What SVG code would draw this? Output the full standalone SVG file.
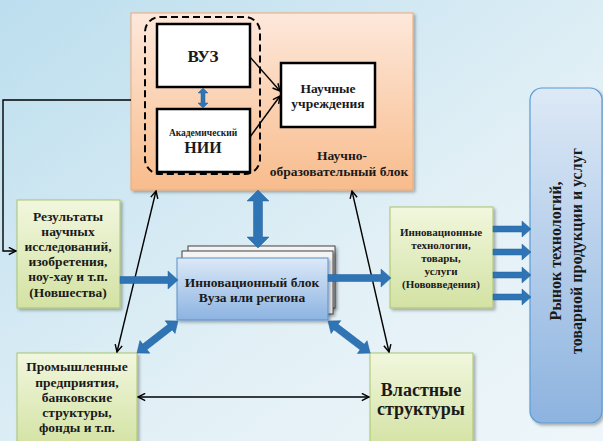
<svg xmlns="http://www.w3.org/2000/svg" width="603" height="441" viewBox="0 0 603 441" font-family="Liberation Serif, Times New Roman, DejaVu Serif, serif">
<defs>
<linearGradient id="bg" x1="0" y1="0" x2="1" y2="1">
<stop offset="0" stop-color="#bcdeee"/>
<stop offset="0.6" stop-color="#e2f0f6"/>
<stop offset="1" stop-color="#eef6fa"/>
</linearGradient>
<linearGradient id="orange" x1="0" y1="0" x2="0" y2="1">
<stop offset="0" stop-color="#fde8db"/>
<stop offset="1" stop-color="#f8bc8c"/>
</linearGradient>
<linearGradient id="green" x1="0" y1="0" x2="0" y2="1">
<stop offset="0" stop-color="#f1f7de"/>
<stop offset="1" stop-color="#d3e2a3"/>
</linearGradient>
<linearGradient id="blue" x1="0" y1="0" x2="0" y2="1">
<stop offset="0" stop-color="#dce9f7"/>
<stop offset="1" stop-color="#8cb3e1"/>
</linearGradient>
<linearGradient id="market" x1="0" y1="0" x2="0" y2="1">
<stop offset="0" stop-color="#dde9f6"/>
<stop offset="1" stop-color="#8db3df"/>
</linearGradient>
<filter id="sh" x="-10%" y="-10%" width="130%" height="130%">
<feDropShadow dx="2" dy="2" stdDeviation="1.5" flood-color="#000" flood-opacity="0.3"/>
</filter>
<marker id="ah" viewBox="0 0 10 10" refX="9" refY="5" markerWidth="9" markerHeight="9" markerUnits="userSpaceOnUse" orient="auto-start-reverse">
<path d="M1,1 L9,5 L1,9" fill="none" stroke="#000" stroke-width="1.6"/>
</marker>
</defs>
<style>
text{font-family:"Liberation Serif",serif;font-weight:bold;fill:#1a1a1a;text-anchor:middle}
.wb{fill:#fff;stroke:#000;stroke-width:2.5}
.gb{fill:url(#green);stroke:#a9c46c;stroke-width:1}
.ba{fill:#2f74b5;stroke:#26609a;stroke-width:0.5}
.ln{fill:none;stroke:#000;stroke-width:1.4}
</style>
<rect x="0" y="0" width="603" height="441" fill="url(#bg)"/>

<g id="nauchno-blok">
<rect x="131" y="13" width="282" height="177" fill="url(#orange)" stroke="#f3a871" stroke-width="1" filter="url(#sh)"/>
<rect x="145" y="17" width="115" height="157" rx="15" fill="none" stroke="#000" stroke-width="2" stroke-dasharray="7,4"/>
<text x="342" y="160" font-size="13.5">Научно-</text>
<text x="339" y="176" font-size="13.5">образовательный блок</text>
</g>
<g id="vuz">
<rect class="wb" x="157" y="24" width="93" height="63"/>
<text x="203" y="62" font-size="17">ВУЗ</text>
</g>
<g id="nii">
<rect class="wb" x="157" y="109" width="93" height="63"/>
<text x="203" y="136" font-size="9.5">Академический</text>
<text x="203" y="153" font-size="16">НИИ</text>
</g>
<g id="nauchnye-uchr">
<rect class="wb" x="281" y="63" width="94" height="64"/>
<text x="328" y="93" font-size="13.5">Научные</text>
<text x="328" y="108" font-size="13.5">учреждения</text>
</g>

<g id="results">
<rect class="gb" x="17" y="200" width="103" height="108" filter="url(#sh)"/>
<text x="68" y="221" font-size="13.5">Результаты</text>
<text x="68" y="236" font-size="13.5">научных</text>
<text x="68" y="251" font-size="13.5">исследований,</text>
<text x="68" y="266" font-size="13.5">изобретения,</text>
<text x="68" y="281" font-size="13.5">ноу-хау и т.п.</text>
<text x="68" y="297" font-size="13.5">(Новшества)</text>
</g>

<g id="innov-blok">
<rect x="188" y="246" width="147" height="62" fill="#f4f4f4" stroke="#444" stroke-width="1" filter="url(#sh)"/>
<rect x="182" y="251" width="151" height="63" fill="#f4f4f4" stroke="#444" stroke-width="1" filter="url(#sh)"/>
<rect x="177" y="258" width="151" height="62" fill="url(#blue)" stroke="#5b8fcb" stroke-width="1" filter="url(#sh)"/>
<text x="252" y="287" font-size="13.5">Инновационный блок</text>
<text x="252" y="302" font-size="13.5">Вуза или региона</text>
</g>

<g id="innov-tech">
<rect class="gb" x="390" y="207" width="103" height="101" filter="url(#sh)"/>
<text x="441" y="236" font-size="11">Инновационные</text>
<text x="441" y="249" font-size="11">технологии,</text>
<text x="441" y="262" font-size="11">товары,</text>
<text x="441" y="275" font-size="11">услуги</text>
<text x="441" y="288" font-size="11">(Нововведения)</text>
</g>

<g id="market">
<rect x="530" y="88" width="72" height="335" rx="12" fill="url(#market)" stroke="#5b9bd5" stroke-width="1.2" filter="url(#sh)"/>
<text font-size="16" transform="translate(561,251) rotate(-90)">Рынок  технологий,</text>
<text font-size="16" transform="translate(582,251) rotate(-90)">товарной продукции и услуг</text>
</g>

<g id="prom">
<rect class="gb" x="17" y="353" width="120" height="95" filter="url(#sh)"/>
<text x="77" y="371" font-size="13.5">Промышленные</text>
<text x="77" y="387" font-size="13.5">предприятия,</text>
<text x="77" y="402" font-size="13.5">банковские</text>
<text x="77" y="417" font-size="13.5">структуры,</text>
<text x="77" y="432" font-size="13.5">фонды и т.п.</text>
</g>

<g id="vlast">
<rect class="gb" x="370" y="353" width="103" height="95" filter="url(#sh)"/>
<text x="421" y="396" font-size="18">Властные</text>
<text x="421" y="415" font-size="18">структуры</text>
</g>

<g id="connectors">
<polyline class="ln" points="131,100 3,100 3,251 16,251" marker-end="url(#ah)"/>
<line class="ln" x1="250" y1="57" x2="280" y2="91" marker-end="url(#ah)"/>
<line class="ln" x1="250" y1="137" x2="280" y2="96" marker-end="url(#ah)"/>
<line class="ln" x1="117" y1="352" x2="156" y2="191" marker-start="url(#ah)" marker-end="url(#ah)"/>
<line class="ln" x1="352" y1="191" x2="389" y2="352" marker-start="url(#ah)" marker-end="url(#ah)"/>
<line class="ln" x1="138" y1="397" x2="369" y2="397" marker-start="url(#ah)" marker-end="url(#ah)"/>

<polygon class="ba" points="203,88 208,93 205,93 205,103 208,103 203,108 198,103 201,103 201,93 198,93"/>
<polygon class="ba" points="258,190 269,201 262.5,201 262.5,237 269,237 258,248 247,237 253.5,237 253.5,201 247,201"/>
<polygon class="ba" points="120,276.5 168,276.5 168,271 178,280 168,289 168,283.5 120,283.5"/>
<polygon class="ba" points="328,274.5 381,274.5 381,269 391,278 381,287 381,281.5 328,281.5"/>
<polygon class="ba" points="493,226 522,226 522,221 531,229 522,237 522,232 493,232"/>
<polygon class="ba" points="493,249 522,249 522,244 531,252 522,260 522,255 493,255"/>
<polygon class="ba" points="493,272 522,272 522,267 531,275 522,283 522,278 493,278"/>
<polygon class="ba" points="493,294 522,294 522,289 531,297 522,305 522,300 493,300"/>
<polygon class="ba" transform="translate(137,353) rotate(-38)" points="0,0 10,-8 10,-3.5 42,-3.5 42,-8 52,0 42,8 42,3.5 10,3.5 10,8"/>
<polygon class="ba" transform="translate(328,321) rotate(37.3)" points="0,0 10,-8 10,-3.5 43,-3.5 43,-8 53,0 43,8 43,3.5 10,3.5 10,8"/>
</g>
</svg>
